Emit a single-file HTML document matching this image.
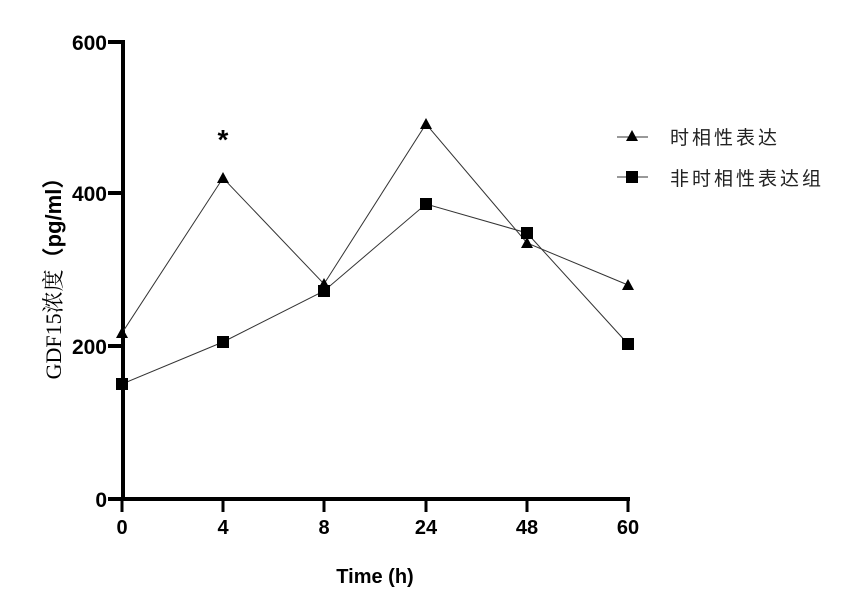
<!DOCTYPE html>
<html><head><meta charset="utf-8"><style>body{margin:0;background:#fff}svg{display:block}</style></head><body>
<svg width="855" height="609" xmlns="http://www.w3.org/2000/svg" font-family="Liberation Sans, Arial, sans-serif">
<rect width="855" height="609" fill="#fff"/>
<g stroke="#000" stroke-width="4" fill="none">
<line x1="123" y1="40" x2="123" y2="499"/>
<line x1="121" y1="499" x2="630" y2="499"/>
<line x1="108" y1="42" x2="123" y2="42"/>
<line x1="108" y1="193" x2="123" y2="193"/>
<line x1="108" y1="346" x2="123" y2="346"/>
<line x1="108" y1="499" x2="123" y2="499"/>
<g stroke-width="3">
<line x1="122" y1="499" x2="122" y2="512"/><line x1="223" y1="499" x2="223" y2="512"/><line x1="324" y1="499" x2="324" y2="512"/><line x1="426" y1="499" x2="426" y2="512"/><line x1="527" y1="499" x2="527" y2="512"/><line x1="628" y1="499" x2="628" y2="512"/>
</g></g>
<g font-size="21" font-weight="bold" text-anchor="end">
<text x="107" y="50">600</text><text x="107" y="201">400</text><text x="107" y="354">200</text><text x="107" y="507">0</text>
</g>
<g font-size="20" font-weight="bold" text-anchor="middle">
<text x="122" y="534">0</text><text x="223" y="534">4</text><text x="324" y="534">8</text><text x="426" y="534">24</text><text x="527" y="534">48</text><text x="628" y="534">60</text>
<text x="375" y="583">Time (h)</text>
</g>
<text transform="translate(61,273) rotate(-90)" text-anchor="middle" font-size="22"><tspan font-family="Liberation Serif, Noto Serif CJK SC, serif">GDF15浓度</tspan><tspan font-weight="bold" font-family="Liberation Sans, Noto Sans CJK SC, sans-serif">（pg/ml）</tspan></text>
<text x="223" y="149" font-size="28" font-weight="bold" text-anchor="middle">*</text>
<polyline points="122,333 223,178 324,284 426,124 527,243 628,285" fill="none" stroke="#333" stroke-width="1"/>
<polyline points="122,384 223,342 324,291 426,204 527,233 628,344" fill="none" stroke="#333" stroke-width="1"/>
<g fill="#000">
<path d="M122,327l6,11h-12z M223,172l6,11h-12z M324,278l6,11h-12z M426,118l6,11h-12z M527,237l6,11h-12z M628,279l6,11h-12z"/>
<rect x="116" y="378" width="12" height="12"/><rect x="217" y="336" width="12" height="12"/><rect x="318" y="285" width="12" height="12"/><rect x="420" y="198" width="12" height="12"/><rect x="521" y="227" width="12" height="12"/><rect x="622" y="338" width="12" height="12"/>
</g>
<line x1="617" y1="137" x2="648" y2="137" stroke="#333" stroke-width="1"/>
<path d="M632,130l6,11h-12z" fill="#000"/>
<line x1="617" y1="177" x2="648" y2="177" stroke="#333" stroke-width="1"/>
<rect x="626" y="171" width="12" height="12" fill="#000"/>
<g font-size="19" font-family="Liberation Sans, Noto Sans CJK SC, sans-serif" letter-spacing="3" fill="#222">
<text x="670" y="144">时相性表达</text>
<text x="670" y="185">非时相性表达组</text>
</g>
</svg>
</body></html>
